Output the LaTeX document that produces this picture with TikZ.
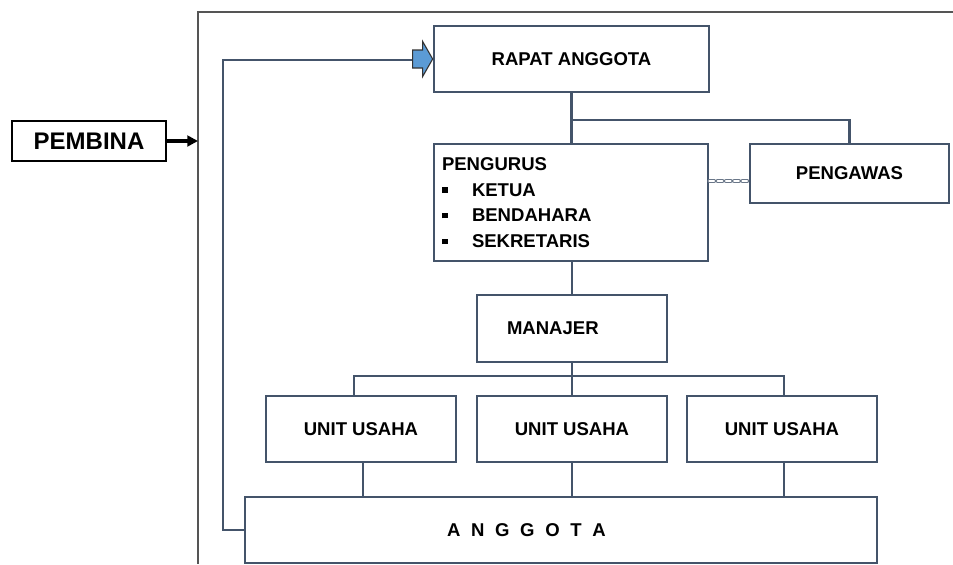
\documentclass[tikz,border=0pt]{standalone}
\usepackage{fontspec}
\setmainfont{Liberation Sans}
\usepackage{xcolor}
\usetikzlibrary{arrows.meta, positioning}

\definecolor{boxline}{RGB}{68,84,106}
\definecolor{framegray}{RGB}{85,85,85}
\definecolor{arrowblue}{RGB}{91,155,213}

\newcommand{\sqbullet}{\makebox[22.5pt][l]{\rule[2.5pt]{4.2pt}{4.2pt}}}

\begin{document}
\begin{tikzpicture}[x=0.75pt, y=-0.75pt,
    orgbox/.style={rectangle, draw=boxline, line width=2pt, inner sep=0pt,
      font=\fontsize{13.9}{19.3}\selectfont\bfseries},
    link/.style={draw=boxline, line width=2pt},
    dotlink/.style={draw=boxline!80, line width=0.75pt, double=white,
      double distance=1.5pt, line cap=round, dash pattern=on 3.6pt off 2.6pt}]
        \useasboundingbox (0,0) rectangle (953,564);

        % outer frame
        \coordinate (frameTL) at (198,12);
        \draw [framegray, line width=1.1pt] (953,12) -| (198,564);

        \node (pembina) [rectangle, draw=black, line width=0.9pt, minimum width=115.5pt, minimum height=30pt,
          font=\fontsize{18}{20}\selectfont\bfseries] at (89,141) {PEMBINA};
        \draw [black, line width=2.4pt, -{Triangle[length=8pt,width=8pt]}] (pembina.east) -- (pembina.east -| frameTL);

        \node (rapat) [orgbox, minimum width=206.25pt, minimum height=49.5pt] at (571.5,59) {RAPAT ANGGOTA};
        \node (pengurus) [orgbox, minimum height=87.75pt, text width=193.5pt, inner xsep=6pt, align=left] at (571,202.5)
          {PENGURUS\\ \sqbullet KETUA\\ \sqbullet BENDAHARA\\ \sqbullet SEKRETARIS};
        \node (pengawas) [orgbox, minimum width=149.25pt, minimum height=44.25pt] at (849.5,173.5) {PENGAWAS};
        \node (manajer) [orgbox, minimum height=50.25pt, text width=97.5pt, inner xsep=22.5pt, align=left] at (572,328.5) {MANAJER};

        \node (unit1) [orgbox, minimum width=142.5pt, minimum height=49.5pt] at (361,429) {UNIT USAHA};
        \node (unit2) [orgbox, minimum width=142.5pt, minimum height=49.5pt] at (572,429) {UNIT USAHA};
        \node (unit3) [orgbox, minimum width=142.5pt, minimum height=49.5pt] at (782,429) {UNIT USAHA};

        \node (anggota) [orgbox, minimum height=49.5pt, text width=171pt, inner xsep=151.5pt, align=left] at (561,530)
          {A\hspace{8pt}N\hspace{8pt}G\hspace{8pt}G\hspace{8pt}O\hspace{8pt}T\hspace{8pt}A};

        % rapat to pengurus and pengawas
        \coordinate (busT) at (0,120);
        \draw [link] (rapat) -- (rapat |- pengurus.north);
        \draw [link] (rapat |- busT) -| (pengawas.north);
        \coordinate (dotR) at ([yshift=-5.6pt]pengawas.west);
        \draw [dotlink] (dotR -| pengurus.east) -- (dotR);

        \draw [link] (manajer.north |- pengurus.south) -- (manajer.north);

        % manajer to unit usaha
        \coordinate (busL) at (354,376);
        \coordinate (busR) at (784,376);
        \draw [link] (manajer) -- (manajer |- unit2.north);
        \draw [link] (busL |- unit1.north) -- (busL) -- (busR) -- (busR |- unit3.north);

        \draw [link] ([xshift=1.5pt]unit1.south) -- ([xshift=1.5pt]unit1.south |- anggota.north);
        \draw [link] (unit2) -- (unit2 |- anggota.north);
        \draw [link] ([xshift=1.5pt]unit3.south) -- ([xshift=1.5pt]unit3.south |- anggota.north);

        % anggota back to rapat anggota
        \coordinate (fbL) at (223,60);
        \coordinate (fbEnd) at ([xshift=-15pt]rapat.west);
        \draw [link] (anggota.west) -| (fbL) -- (fbL -| fbEnd);
        \draw [draw=black!80, line width=0.8pt, fill=arrowblue, line join=miter]
          (fbEnd) ++(0,-9) -- ++(10,0) -- ++(0,-8.5) -- (rapat.west) -- ++(-10,17.5) -- ++(0,-8.5) -- ++(-10,0) -- cycle;
    \end{tikzpicture}
\end{document}
